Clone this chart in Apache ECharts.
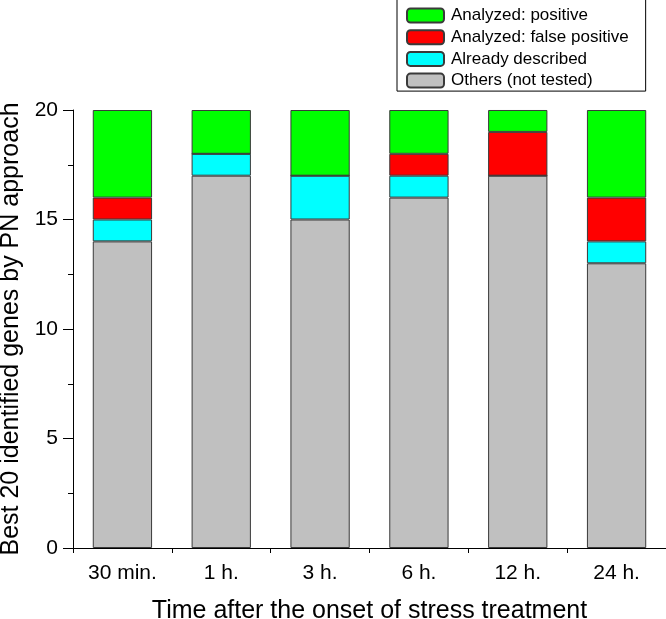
<!DOCTYPE html>
<html>
<head>
<meta charset="utf-8">
<script src="https://cdn.jsdelivr.net/npm/echarts@6/dist/echarts.min.js"></script>
<style>html,body{margin:0;padding:0;background:#fff}#c{width:666px;height:619px}</style>
</head>
<body>
<div id="c"></div>
<script>
var categories = ['30 min.', '1 h.', '3 h.', '6 h.', '12 h.', '24 h.'];
var others = [14, 17, 15, 16, 17, 13];
var alreadyDescribed = [1, 1, 2, 1, 0, 1];
var falsePositive = [1, 0, 0, 1, 2, 2];
var positive = [4, 2, 3, 2, 1, 4];
var yTicks = [0, 5, 10, 15, 20];

var font = 'Liberation Sans, Arial, sans-serif';
var chart = echarts.init(document.getElementById('c'), null, {renderer: 'canvas'});
function bar(name, data, color) {
  return {
    name: name, type: 'bar', stack: 'total', data: data, barWidth: '60%',
    xAxisIndex: 0,
    itemStyle: {color: color, borderColor: '#3a3a3a', borderWidth: 1},
    emphasis: {disabled: true}
  };
}
chart.setOption({
  animation: false,
  grid: {left: 73, right: 0, top: 110, bottom: 71, containLabel: false, outerBoundsMode: 'none'},
  legend: {
    orient: 'vertical', left: 397, top: -3,
    padding: [10, 17, 2, 9],
    itemWidth: 37, itemHeight: 14, itemGap: 4.7,
    borderColor: '#000', borderWidth: 1, backgroundColor: '#fff',
    textStyle: {fontFamily: font, fontSize: 17, color: '#000', lineHeight: 17, padding: [0, 0, 0, 2]},
    data: ['Analyzed: positive', 'Analyzed: false positive', 'Already described', 'Others (not tested)']
  },
  xAxis: [{
    type: 'category', data: categories, position: 'bottom',
    name: 'Time after the onset of stress treatment', nameLocation: 'middle', nameGap: 51,
    nameTextStyle: {fontFamily: font, fontSize: 25, color: '#000'},
    axisLine: {lineStyle: {color: '#000', width: 1}},
    axisTick: {alignWithLabel: true, length: 9, lineStyle: {color: '#000'}},
    axisLabel: {fontFamily: font, fontSize: 21, color: '#000', margin: 15}
  }, {
    type: 'category', data: categories, position: 'bottom',
    axisLine: {show: false},
    axisTick: {show: true, length: 5, lineStyle: {color: '#000'}},
    axisLabel: {show: false}
  }],
  yAxis: {
    type: 'value', min: 0, max: 20, interval: 5,
    name: 'Best 20 identified genes by PN approach', nameLocation: 'middle', nameGap: 35,
    nameTextStyle: {fontFamily: font, fontSize: 25, color: '#000'},
    axisLine: {show: true, lineStyle: {color: '#000', width: 1}},
    axisTick: {show: true, length: 10, lineStyle: {color: '#000'}},
    minorTick: {show: true, splitNumber: 2, length: 5, lineStyle: {color: '#000'}},
    splitLine: {show: false},
    axisLabel: {fontFamily: font, fontSize: 21, color: '#000', margin: 15,
      formatter: function (v) { return yTicks.indexOf(v) >= 0 ? String(v) : ''; }}
  },
  series: [
    bar('Others (not tested)', others, '#c0c0c0'),
    bar('Already described', alreadyDescribed, '#00ffff'),
    bar('Analyzed: false positive', falsePositive, '#ff0000'),
    bar('Analyzed: positive', positive, '#00ff00')
  ]
});
</script>
</body>
</html>
